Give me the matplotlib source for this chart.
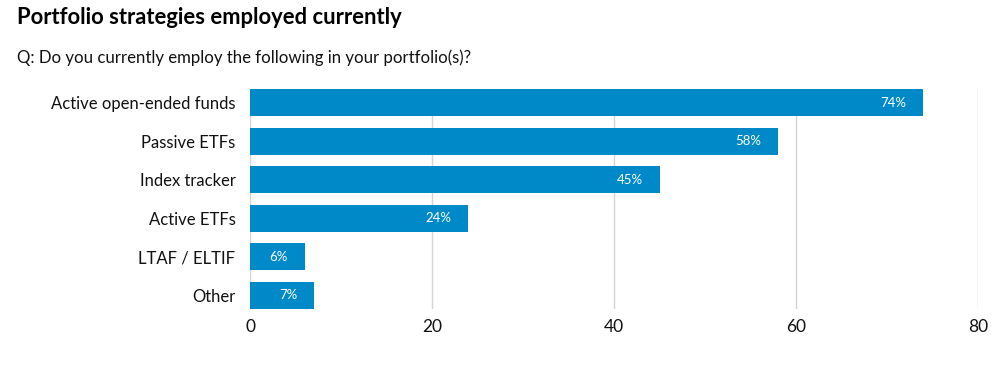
import matplotlib
matplotlib.use("Agg")
import matplotlib.pyplot as plt

categories = ["Active open-ended funds", "Passive ETFs", "Index tracker",
              "Active ETFs", "LTAF / ELTIF", "Other"]
values = [74, 58, 45, 24, 6, 7]
xticks = [0, 20, 40, 60, 80]

plt.rcParams['font.family'] = ['Lato', 'DejaVu Sans']

fig = plt.figure(figsize=(10, 3.76), dpi=100)
ax = fig.add_axes([0.25, 1 - 309/376, 0.728, (309-89)/376])

color = "#0089C9"
ypos = list(range(len(categories)))
ax.barh(ypos, values, height=0.7, color=color, zorder=2)
ax.set_ylim(len(categories) - 0.65, -0.35)
ax.set_xlim(0, 80)
ax.set_yticks(ypos)
ax.set_yticklabels(categories, fontsize=12, color="#111111")
ax.set_xticks(xticks)
ax.set_xticklabels([str(t) for t in xticks], fontsize=12.5, color="#111111")
ax.tick_params(axis='both', length=0)
ax.tick_params(axis='y', pad=10.5)
ax.tick_params(axis='x', pad=7)
for s in ax.spines.values():
    s.set_visible(False)
ax.grid(axis='x', color="#d4d4d4", linewidth=1, zorder=0)
ax.set_axisbelow(True)

for y, v in zip(ypos, values):
    ax.annotate(f"{v}%", xy=(v, y), xytext=(-12, 0), textcoords="offset points",
                ha="right", va="center", color="white", fontsize=9.5, zorder=3)

fig.text(0.017, 1 - 18/376, "Portfolio strategies employed currently",
         fontsize=15.8, fontweight="bold", ha="left", va="center", color="#000000")
fig.text(0.017, 1 - 58/376, "Q: Do you currently employ the following in your portfolio(s)?",
         fontsize=12.1, ha="left", va="center", color="#111111")

fig.savefig("out.png", dpi=100)
